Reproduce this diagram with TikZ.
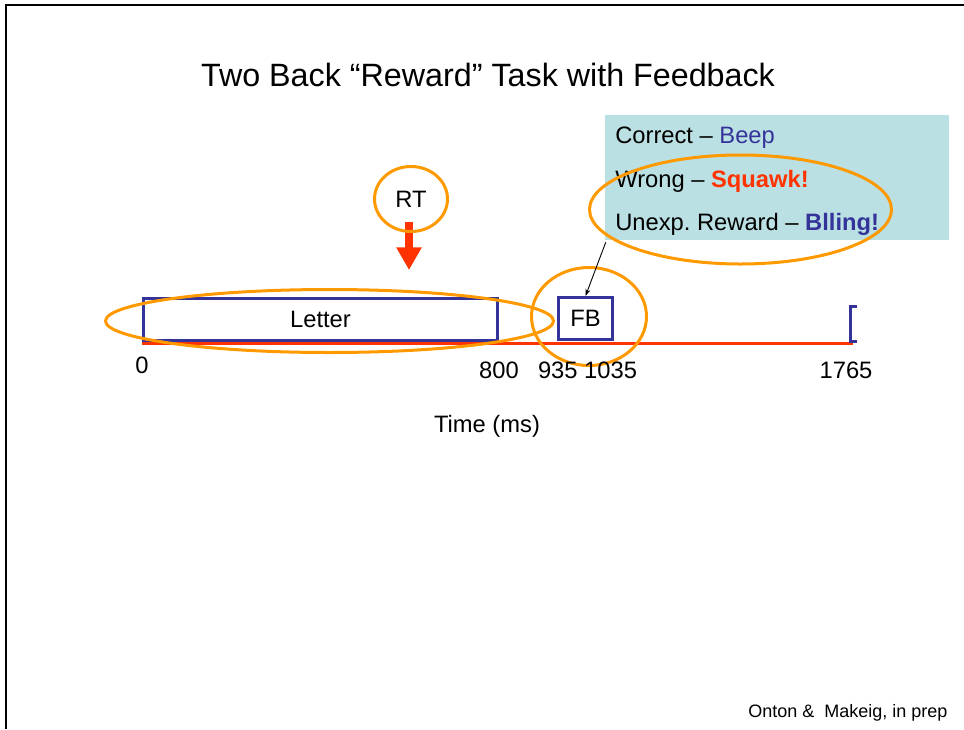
\documentclass[tikz,border=0pt]{standalone}
\usepackage{fontspec}
\setmainfont{Liberation Sans}
\usetikzlibrary{arrows.meta,shapes.geometric}
\frenchspacing
\newlength{\px}
\setlength{\px}{0.75pt}
\definecolor{boxblue}{HTML}{333399}
\definecolor{axisred}{HTML}{FF3300}
\definecolor{markorange}{HTML}{FF9900}
\definecolor{cueteal}{HTML}{BBE0E3}
\tikzset{
  bodytext/.style={font=\fontsize{17.8}{21}\selectfont, inner sep=0pt},
  ticklabel/.style={bodytext, anchor=base},
  cueline/.style={bodytext, anchor=base west},
  eventbox/.style={draw=boxblue, line width=3\px, inner sep=0pt, font=\fontsize{17.8}{21}\selectfont},
  oval/.style={ellipse, draw=markorange, line width=3\px, inner sep=0pt},
}
\begin{document}
\begin{tikzpicture}[x=0.75pt,y=-0.75pt]
\useasboundingbox (0,0) rectangle (964,729);
% frame
\draw[line width=1.5\px] (6,729) -- (6,5) -- (964,5);
% title
\node[font=\fontsize{24.2}{28}\selectfont, anchor=base, inner sep=0pt] (title) at (488,86) {Two Back “Reward” Task with Feedback};
% cue box
\node[fill=cueteal, minimum width=344\px, minimum height=125\px, inner sep=0pt] (cues) at (777,177.5) {};
\node[cueline] (c1) at (615,143) {Correct – \textcolor{boxblue}{Beep}};
\node[cueline] (c2) at (615,187.5) {Wrong – \textcolor{axisred}{\bfseries Squawk!}};
\node[cueline] (c3) at (615,230) {Unexp. Reward – \textcolor{boxblue}{\bfseries Blling!}};
% time axis
\coordinate (t0) at (142,343);
\coordinate (tend) at (853,343);
\draw[axisred, line width=3\px] (t0) -- (tend);
% boxes
\node[eventbox, minimum width=354\px, minimum height=42\px] (letter) at (320.5,319) {Letter};
\node[eventbox, minimum width=54\px, minimum height=42\px] (fb) at (585.5,318.5) {FB};
\draw[boxblue, line width=3\px] (857,306) -- (850.5,306) -- (850.5,341) -- (857,341);
% RT arrow
\coordinate (rtstart) at (409,222);
\coordinate (rttip) at (409,270);
\draw[axisred, line width=6pt, -{Triangle[width=18pt, length=17pt]}] (rtstart) -- (rttip);
% RT circle
\node[oval, minimum width=73\px, minimum height=65\px, font=\fontsize{17.8}{21}\selectfont] (rt) at (411,199) {RT};
% ovals
\node[oval, minimum width=448\px, minimum height=63\px] (letterOval) at (329.5,321) {};
\node[oval, minimum width=115\px, minimum height=98\px] (fbOval) at (589,316.5) {};
\node[oval, minimum width=302\px, minimum height=109\px] (cueOval) at (740.5,209.5) {};
% pointer
\draw[line width=0.9\px, -{Stealth[length=5.25pt, width=3.75pt]}] (cues.south west) ++(1,2) -- (fb.north);
% tick labels
\node[ticklabel] (l0) at (142,373) {0};
\node[ticklabel] (l800) at (499,378) {800};
\node[ticklabel] (l935) at (587.5,378) {935 1035};
\node[ticklabel] (l1765) at (846,378) {1765};
\node[ticklabel] (xlabel) at (487,432) {Time (ms)};
% credit
\node[font=\fontsize{13.5}{16}\selectfont, anchor=base west, inner sep=0pt] (credit) at (748,717) {Onton \&~ Makeig, in prep};
\end{tikzpicture}
\end{document}
